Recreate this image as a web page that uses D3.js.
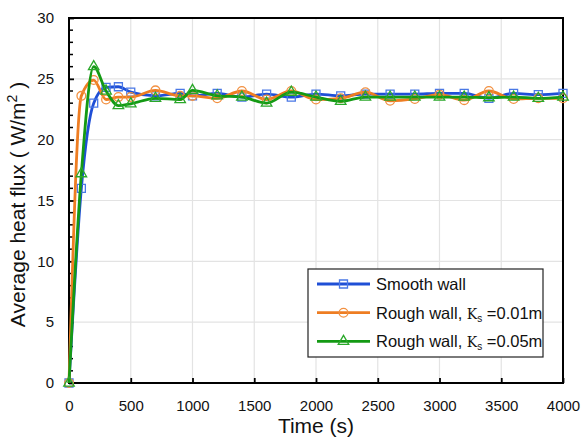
<!DOCTYPE html>
<html>
<head>
<meta charset="utf-8">
<script src="https://cdn.jsdelivr.net/npm/d3@7"></script>
<style>
  body { margin: 0; background: #fff; }
  svg { font-family: "Liberation Sans", Arial, sans-serif; }
</style>
</head>
<body>
<svg id="chart"></svg>
<script>
// data
const times = [0, 100, 200, 300, 400, 500, 700, 900, 1000, 1200, 1400, 1600, 1800, 2000,
  2200, 2400, 2600, 2800, 3000, 3200, 3400, 3600, 3800, 4000]
const smooth = [0, 16.0, 23.0, 24.3, 24.35, 23.9, 23.6, 23.8, 23.6, 23.8, 23.5, 23.75, 23.5, 23.75,
  23.6, 23.75, 23.75, 23.75, 23.8, 23.8, 23.4, 23.8, 23.7, 23.8]
const rough01 = [0, 23.6, 24.9, 23.3, 23.5, 23.5, 24.05, 23.6, 23.6, 23.4, 24.0, 23.3, 24.0, 23.3,
  23.4, 23.9, 23.2, 23.35, 23.7, 23.25, 24.0, 23.35, 23.4, 23.4]
const rough05 = [0, 17.2, 26.0, 24.0, 22.8, 22.95, 23.4, 23.3, 24.05, 23.6, 23.5, 23.0, 23.9, 23.5,
  23.15, 23.5, 23.5, 23.5, 23.5, 23.5, 23.45, 23.5, 23.4, 23.5]
const xTicks = [0, 500, 1000, 1500, 2000, 2500, 3000, 3500, 4000]
const yTicks = [0, 5, 10, 15, 20, 25, 30]

const series = [
  { name: "Smooth wall", ks: null, values: smooth, color: "#1f4fd6", marker: "#4a78e6", shape: "square" },
  { name: "Rough wall, ", ks: "=0.01m", values: rough01, color: "#ee7d22", marker: "#f29040", shape: "circle" },
  { name: "Rough wall, ", ks: "=0.05m", values: rough05, color: "#149a14", marker: "#2aa82a", shape: "triangle" }
]

const W = 582, H = 439
const margin = { top: 18, right: 19, bottom: 56, left: 69 }
const width = W - margin.left - margin.right
const height = H - margin.top - margin.bottom

const svg = d3.select("#chart").attr("width", W).attr("height", H)
const chart = svg.append("g").attr("transform", `translate(${margin.left},${margin.top})`)

const x = d3.scaleLinear().domain([0, 4000]).range([0, width])
const y = d3.scaleLinear().domain([0, 30]).range([height, 0])

// grid
chart.append("g").selectAll("line").data(xTicks.slice(1, -1)).join("line")
  .attr("x1", d => x(d)).attr("x2", d => x(d)).attr("y1", 0).attr("y2", height)
  .attr("stroke", "#e3e3e3").attr("stroke-width", 1.2)
chart.append("g").selectAll("line").data(yTicks.slice(1, -1)).join("line")
  .attr("y1", d => y(d)).attr("y2", d => y(d)).attr("x1", 0).attr("x2", width)
  .attr("stroke", "#e3e3e3").attr("stroke-width", 1.2)

// axes
const xAxis = chart.append("g").attr("transform", `translate(0,${height})`)
  .call(d3.axisBottom(x).tickValues(xTicks).tickFormat(d3.format("d"))
    .tickSizeInner(-5).tickSizeOuter(0).tickPadding(17))
const yAxis = chart.append("g")
  .call(d3.axisLeft(y).tickValues(yTicks).tickSizeInner(-5).tickSizeOuter(0).tickPadding(15))
yAxis.append("g").selectAll("line").data(d3.range(0, 31).filter(d => d % 5 !== 0)).join("line")
  .attr("x1", 0).attr("x2", 4).attr("y1", d => y(d)).attr("y2", d => y(d))
  .attr("stroke", "#000").attr("stroke-width", 1.5)
for (const ax of [xAxis, yAxis]) {
  ax.select(".domain").remove()
  ax.selectAll(".tick line").attr("stroke", "#000").attr("stroke-width", 1.8)
  ax.selectAll(".tick text").attr("font-size", 15).attr("fill", "#111")
    .attr("font-family", "Liberation Sans, Arial, sans-serif")
}

// frame
chart.append("rect").attr("width", width).attr("height", height)
  .attr("fill", "none").attr("stroke", "#000").attr("stroke-width", 2)

// lines
const line = d3.line().curve(d3.curveMonotoneX)
  .x((d, i) => x(times[i])).y(d => y(d))

const sym = {
  square: d3.symbol(d3.symbolSquare, 64),
  circle: d3.symbol(d3.symbolCircle, 60),
  triangle: d3.symbol(d3.symbolTriangle, 48)
}

series.forEach(s => {
  chart.append("path").datum(s.values).attr("d", line)
    .attr("fill", "none").attr("stroke", s.color).attr("stroke-width", 2.8)
  chart.append("g").selectAll("path").data(s.values).join("path")
    .attr("transform", (d, i) => `translate(${x(times[i])},${y(d)})`)
    .attr("d", sym[s.shape]())
    .attr("fill", "none").attr("stroke", s.marker).attr("stroke-width", 1.3)
})

// axis titles
svg.append("text").attr("x", margin.left + width / 2).attr("y", 433)
  .attr("text-anchor", "middle").attr("font-size", 21).attr("fill", "#111").text("Time (s)")
const yt = svg.append("text").attr("transform", `translate(25,${margin.top + height / 2 + 4}) rotate(-90)`)
  .attr("text-anchor", "middle").attr("font-size", 21).attr("fill", "#111")
yt.append("tspan").text("Average heat flux ( W/m")
yt.append("tspan").attr("dy", -8).attr("font-size", 14).text("2")
yt.append("tspan").attr("dy", 8).text(" )")

// legend
const lg = svg.append("g").attr("transform", "translate(308,269)")
lg.append("rect").attr("width", 235).attr("height", 88)
  .attr("fill", "#fff").attr("stroke", "#222").attr("stroke-width", 1.2)
series.forEach((s, i) => {
  const row = lg.append("g").attr("transform", `translate(0,${15 + i * 28.7})`)
  row.append("line").attr("x1", 9).attr("x2", 62).attr("stroke", s.color).attr("stroke-width", 2.8)
  row.append("path").attr("transform", "translate(35.5,0)").attr("d", sym[s.shape]())
    .attr("fill", "none").attr("stroke", s.marker).attr("stroke-width", 1.3)
  const t = row.append("text").attr("x", 68).attr("y", 6).attr("font-size", 16.5).attr("fill", "#111")
  t.append("tspan").text(s.name)
  if (s.ks) {
    t.append("tspan").attr("font-family", "DejaVu Serif, serif").attr("font-size", 14).text("K")
    t.append("tspan").attr("dy", 3).attr("font-size", 10).text("s")
    t.append("tspan").attr("dy", -3).text(" " + s.ks)
  }
})
</script>
</body>
</html>
